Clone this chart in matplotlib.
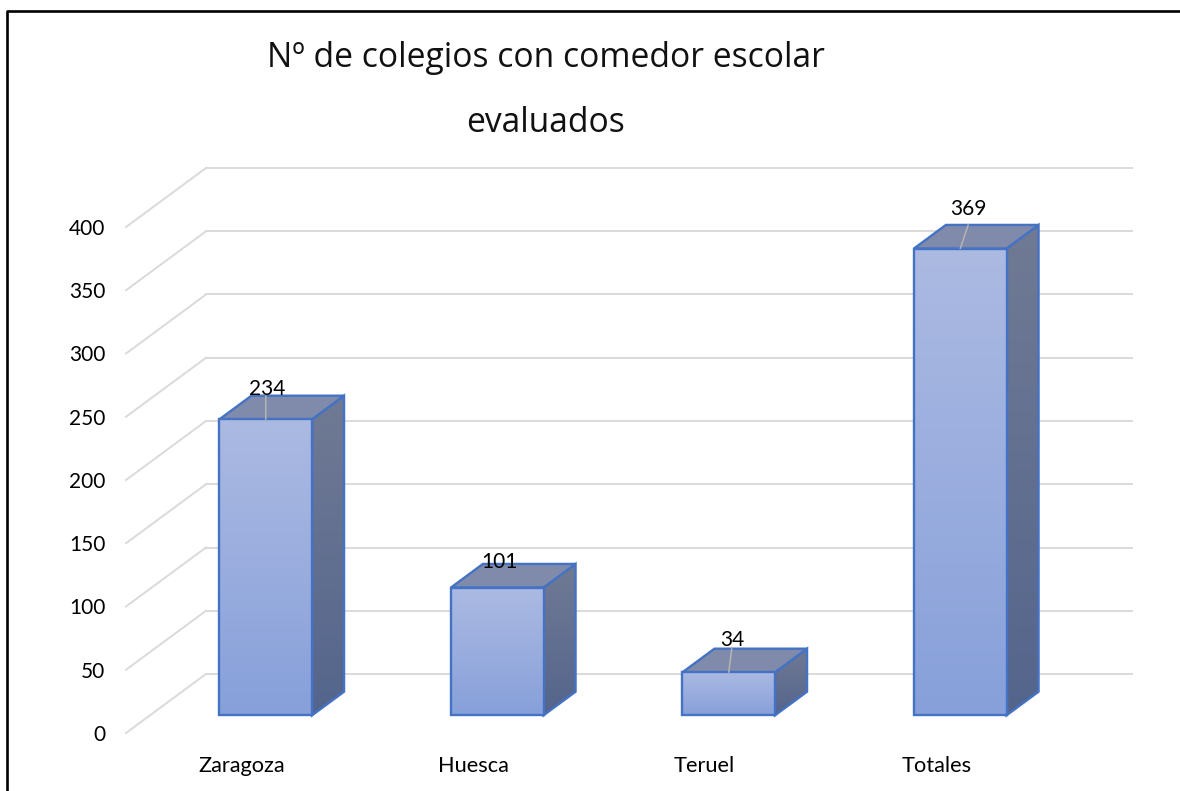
import numpy as np
import matplotlib
matplotlib.use("Agg")
import matplotlib.pyplot as plt
from matplotlib.lines import Line2D
from matplotlib.patches import Polygon
from matplotlib.transforms import Affine2D

categories = ["Zaragoza", "Huesca", "Teruel", "Totales"]
values = [234, 101, 34, 369]
y_ticks = [0, 50, 100, 150, 200, 250, 300, 350, 400]
title = "Nº de colegios con comedor escolar\nevaluados"

W, H = 1180, 791
BAR_WIDTH = 0.4
DEPTH_PX = (80, 59)  # full floor depth on screen
BAR_FRONT, BAR_BACK = 0.30, 0.70
EDGE = "#4472c4"
GRID = "#dadada"

# label nudges from the back top edge centre (px), leader tilt on top face
label_nudge = [(-31, 9), (-30, 4), (-28, 11), (-24, 18)]
leader_tilt = [0, None, 3, 8]


def gradient(top, bottom):
    return np.linspace(top, bottom, 256).reshape(256, 1, 3) / 255


fig = plt.figure(figsize=(W / 100, H / 100), dpi=100)
ax = fig.add_axes([126 / W, 1 - 733 / H, 926 / W, 506 / H])
ax.set_xlim(-0.5, 3.5)
ax.set_ylim(0, 400)


def at_depth(d):
    return ax.transData + Affine2D().translate(DEPTH_PX[0] * d, DEPTH_PX[1] * d)


back = at_depth(1)
for t in y_ticks:
    # diagonal on the side wall, in screen units through the tick position
    x0, y0 = ax.transData.transform((-0.5, t))
    x1, y1 = back.transform((-0.5, t))
    ax.add_line(Line2D([x0, x1], [y0, y1], transform=None, color=GRID, lw=1.4,
                       clip_on=False, zorder=1))
    ax.plot([-0.5, 3.5], [t, t], transform=back, color=GRID, lw=1.4, clip_on=False, zorder=1)

bar_tf = at_depth(BAR_FRONT)
# depth of a bar expressed in data units
px_per_x = 926 / 4
px_per_y = 506 / 400
dx = (BAR_BACK - BAR_FRONT) * DEPTH_PX[0] / px_per_x
dy = (BAR_BACK - BAR_FRONT) * DEPTH_PX[1] / px_per_y

for i, v in enumerate(values):
    x0, x1 = i - BAR_WIDTH / 2, i + BAR_WIDTH / 2

    side = Polygon([(x1, 0), (x1 + dx, dy), (x1 + dx, v + dy), (x1, v)], closed=True,
                   transform=bar_tf, fc="none", ec=EDGE, lw=1.7, clip_on=False, zorder=4)
    ax.add_patch(side)
    im = ax.imshow(gradient((112, 122, 148), (84, 101, 140)), extent=(x1, x1 + dx, 0, v + dy),
                   transform=bar_tf, aspect="auto", zorder=3)
    im.set_clip_path(side)

    top = Polygon([(x0, v), (x1, v), (x1 + dx, v + dy), (x0 + dx, v + dy)], closed=True,
                  transform=bar_tf, fc="#808aaa", ec=EDGE, lw=1.7, clip_on=False, zorder=4)
    ax.add_patch(top)

    face = Polygon([(x0, 0), (x1, 0), (x1, v), (x0, v)], closed=True,
                   transform=bar_tf, fc="none", ec=EDGE, lw=1.7, clip_on=False, zorder=6)
    ax.add_patch(face)
    im = ax.imshow(gradient((172, 186, 226), (135, 160, 218)), extent=(x0, x1, 0, v),
                   transform=bar_tf, aspect="auto", zorder=5)
    im.set_clip_path(face)

    # value label sits just above the back edge of the top face
    nx, ny = label_nudge[i]
    ax.annotate(str(v), xy=(x0 + dx + BAR_WIDTH / 2, v + dy), xycoords=bar_tf,
                xytext=(nx * 0.72, (ny - 2) * 0.72), textcoords="offset points",
                ha="center", va="center", fontsize=15, family="Lato", color="black",
                annotation_clip=False, zorder=8)
    if leader_tilt[i] is not None:
        ax.annotate("", xy=(i, v), xycoords=bar_tf,
                    xytext=(leader_tilt[i] * 0.72, 17), textcoords="offset points",
                    arrowprops=dict(arrowstyle="-", color="#b5b5b5", lw=1.1, shrinkA=0, shrinkB=0),
                    annotation_clip=False, zorder=7)

ax.set_xlim(-0.5, 3.5)
ax.set_ylim(0, 400)
ax.set_xticks(range(len(categories)), categories)
ax.set_yticks(y_ticks)
ax.tick_params(axis="x", length=0, pad=16.3, labelsize=15.7, labelfontfamily="Lato")
ax.tick_params(axis="y", length=0, pad=15, labelsize=15, labelfontfamily="Lato")
for s in ax.spines.values():
    s.set_visible(False)
ax.patch.set_alpha(0)

fig.text(546 / W, 1 - 90.5 / H, title, ha="center", va="center", fontsize=24.2,
         family="Open Sans", color="#111111", linespacing=2.2)

# chart frame, only left and top survive the crop
fig.add_artist(Line2D([7 / W, 7 / W, 1], [0, 1 - 10.5 / H, 1 - 10.5 / H],
                      transform=fig.transFigure, color="black", lw=1.9))

fig.savefig("out.png", dpi=100)
